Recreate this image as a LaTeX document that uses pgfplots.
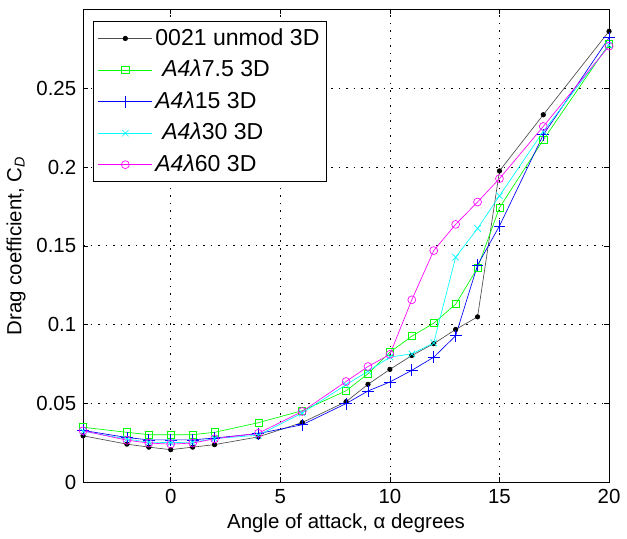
\documentclass[border=0pt]{standalone}
\usepackage{fontspec}
\setmainfont{Liberation Sans}
\usepackage{pgfplots}
\pgfplotsset{compat=1.18}
\definecolor{mgreen}{RGB}{0,255,0}
\definecolor{mblue}{RGB}{0,0,255}
\definecolor{mcyan}{RGB}{0,255,255}
\definecolor{mmagenta}{RGB}{255,0,255}

% x = angle of attack (deg), one column per configuration
\pgfplotstableread{
aoa    unmod    l75     l15     l30     l60
-4     0.0296   0.0350  0.0330  0.0325  0.0328
-2     0.0243   0.0318  0.0285  0.0275  0.0268
-1     0.0224   0.0303  0.0270  0.0255  0.0250
0      0.0208   0.0303  0.0270  0.0253  0.0243
1      0.0224   0.0303  0.0270  0.0255  0.0250
2      0.0240   0.0318  0.0282  0.0278  0.0277
4      0.0289   0.0379  0.0310  0.0300  0.0312
6      0.0380   0.0455  0.0366  0.0440  0.0450
8      0.0512   0.0581  0.0500  0.0620  0.0640
9      0.0622   0.0689  0.0580  0.0705  0.0735
10     0.0717   0.0826  0.0637  0.0795  0.0812
11     0.0805   0.0927  0.0711  0.0815  0.1158
12     0.0880   0.1010  0.0794  0.0885  0.1470
13     0.0970   0.1130  0.0930  0.1428  0.1636
14     0.1050   0.1360  0.1378  0.1610  0.1778
15     0.1975   0.1742  0.1626  0.1817  0.1926
17     0.2331   0.2172  0.2204  0.2225  0.2257
20     0.2860   0.2780  0.2819  0.2772  0.2766
}\cddata

\begin{document}
\fontsize{15}{18}\selectfont
\begin{tikzpicture}
\begin{axis}[
  scale only axis,
  width=399pt, height=359pt,
  xmin=-4, xmax=20, ymin=0, ymax=0.30,
  xtick={0,5,10,15,20},
  ytick={0,0.05,0.1,0.15,0.2,0.25},
  yticklabel style={/pgf/number format/fixed, /pgf/number format/precision=2},
  /pgf/number format/assume math mode=true,
  tick align=inside,
  major tick length=4pt,
  tick style={black, line width=0.5pt},
  axis line style={line width=0.6pt},
  grid=major,
  grid style={black, line width=0.55pt, dash pattern=on 1.2pt off 4.5pt},
  xlabel={Angle of attack, α degrees},
  ylabel={Drag coefficient, C\textsubscript{\textit{D}}},
  every tick label/.append style={font=\fontsize{15.5}{18}\selectfont},
  label style={font=\fontsize{15.5}{18}\selectfont},
  xlabel style={yshift=3pt},
  ylabel style={yshift=-2pt},
  legend style={at={(0.019,0.975)}, anchor=north west, draw=black,
    line width=0.5pt, font=\fontsize{17.5}{20}\selectfont,
    row sep=5pt, inner sep=3.5pt},
  legend cell align=left,
  legend image code/.code={\draw[mark repeat=2, mark phase=2]
    plot coordinates {(0pt,0pt) (20.5pt,0pt) (41pt,0pt)};},
]
\addplot[black!70, line width=0.5pt, mark=*, mark size=1.7pt,
  mark options={black}] table[x=aoa, y=unmod] {\cddata};
\addlegendentry{0021 unmod 3D}
\addplot[mgreen, line width=0.5pt, mark=square, mark size=2.7pt] table[x=aoa, y=l75] {\cddata};
\addlegendentry{\hspace{0.3em}\textit{A4λ}7.5 3D}
\addplot[mblue, line width=0.5pt, mark=+, mark size=4.5pt] table[x=aoa, y=l15] {\cddata};
\addlegendentry{\textit{A4λ}15 3D}
\addplot[mcyan, line width=0.5pt, mark=x, mark size=3.5pt] table[x=aoa, y=l30] {\cddata};
\addlegendentry{\hspace{0.3em}\textit{A4λ}30 3D}
\addplot[mmagenta, line width=0.5pt, mark=o, mark size=3pt] table[x=aoa, y=l60] {\cddata};
\addlegendentry{\textit{A4λ}60 3D}
\end{axis}
\path (current axis.north) ++(0,7pt);
\end{tikzpicture}
\end{document}
